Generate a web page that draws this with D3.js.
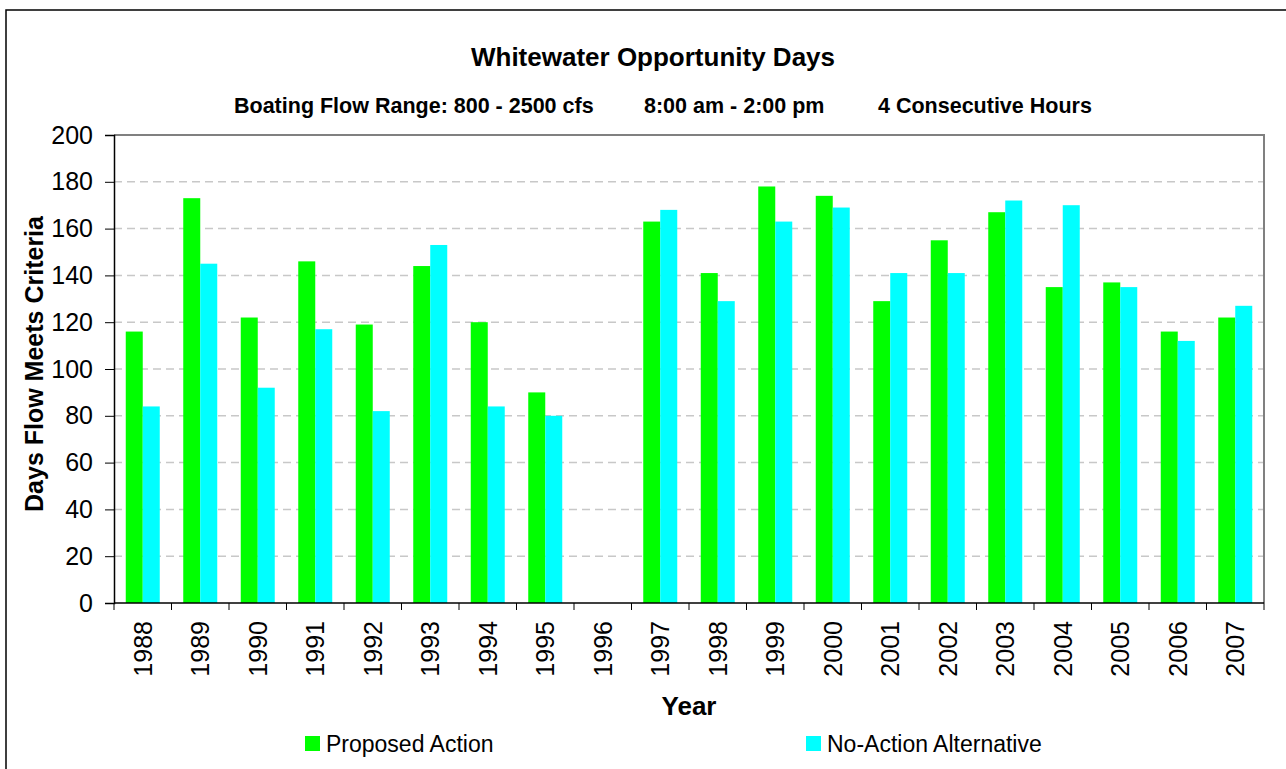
<!DOCTYPE html>
<html>
<head>
<meta charset="utf-8">
<script src="https://cdn.jsdelivr.net/npm/d3@7"></script>
<style>
body{margin:0;background:#fff;}
text{font-family:Arial,"Liberation Sans",sans-serif;}
</style>
</head>
<body>
<script>
const years=["1988","1989","1990","1991","1992","1993","1994","1995","1996","1997","1998","1999","2000","2001","2002","2003","2004","2005","2006","2007"];
const proposed=[116,173,122,146,119,144,120,90,0,163,141,178,174,129,155,167,135,137,116,122];
const noAction=[84,145,92,117,82,153,84,80,0,168,129,163,169,141,141,172,170,135,112,127];
const seriesNames=["Proposed Action","No-Action Alternative"];
const colors=["#00ff00","#00ffff"];
const yTicks=[0,20,40,60,80,100,120,140,160,180,200];

const m={left:114,right:1264,top:135,bottom:603};

const svg=d3.select("body").append("svg")
    .attr("width",1286)
    .attr("height",769);

// outer chart frame
svg.append("rect")
    .attr("x",6).attr("y",10)
    .attr("width",1300).attr("height",800)
    .attr("fill","none").attr("stroke","#000").attr("stroke-width",1.5);

const x=d3.scaleBand().domain(years).range([m.left,m.right]);
const xs=d3.scaleBand().domain([0,1]).range([0,34]);
const y=d3.scaleLinear().domain([0,200]).range([m.bottom,m.top]);

// dashed grid
svg.append("g").selectAll("line")
    .data(yTicks.filter(d=>d>0&&d<200))
    .enter().append("line")
    .attr("x1",m.left).attr("x2",m.right)
    .attr("y1",d=>y(d)).attr("y2",d=>y(d))
    .attr("stroke","#c8c8c8").attr("stroke-width",1.5)
    .attr("stroke-dasharray","8,5");

// top/right plot border
svg.append("path")
    .attr("d",`M${m.left},${m.top}H${m.right}V${m.bottom}`)
    .attr("fill","none").attr("stroke","#808080").attr("stroke-width",2);

const rows=years.map((yr,i)=>({year:yr,vals:[proposed[i],noAction[i]]}));
const off=(x.bandwidth()-34)/2;

svg.append("g").selectAll("g")
    .data(rows)
    .enter().append("g")
    .attr("transform",d=>`translate(${x(d.year)+off},0)`)
    .selectAll("rect")
    .data(d=>d.vals)
    .enter().append("rect")
    .attr("x",(d,i)=>xs(i))
    .attr("width",xs.bandwidth())
    .attr("y",d=>y(d))
    .attr("height",d=>m.bottom-y(d))
    .attr("fill",(d,i)=>colors[i]);

// y axis
const ya=svg.append("g")
    .attr("transform",`translate(${m.left},0)`)
    .call(d3.axisLeft(y).tickValues(yTicks).tickSize(9).tickPadding(12));
ya.select(".domain").attr("stroke","#000").attr("stroke-width",1.5);
ya.selectAll(".tick line").attr("stroke","#000");
ya.selectAll("text").attr("font-size",25).attr("fill","#000").attr("font-family","Arial,'Liberation Sans',sans-serif");

// x axis: ticks at band edges
const xa=svg.append("g").attr("transform",`translate(0,${m.bottom})`);
xa.append("line").attr("x1",m.left).attr("x2",m.right)
    .attr("stroke","#000").attr("stroke-width",1.5);
xa.selectAll(".tk")
    .data(years.concat(["end"]))
    .enter().append("line")
    .attr("x1",(d,i)=>i<years.length?x(d):m.right)
    .attr("x2",(d,i)=>i<years.length?x(d):m.right)
    .attr("y1",0).attr("y2",7)
    .attr("stroke","#000");
xa.selectAll("text")
    .data(years)
    .enter().append("text")
    .attr("transform",d=>`translate(${x(d)+x.bandwidth()/2},18) rotate(-90)`)
    .attr("text-anchor","end")
    .attr("dy","0.35em")
    .attr("font-size",25)
    .text(d=>d);

// titles
svg.append("text").attr("x",653).attr("y",66)
    .attr("text-anchor","middle").attr("font-size",26).attr("font-weight","bold")
    .text("Whitewater Opportunity Days");

const sub=["Boating Flow Range: 800 - 2500 cfs","8:00 am - 2:00 pm","4 Consecutive Hours"];
const subX=[234,644,878];
svg.append("g").selectAll("text")
    .data(sub).enter().append("text")
    .attr("x",(d,i)=>subX[i]).attr("y",113)
    .attr("font-size",21.5).attr("font-weight","bold")
    .text(d=>d);

svg.append("text")
    .attr("transform","translate(43,364) rotate(-90)")
    .attr("text-anchor","middle").attr("font-size",25).attr("font-weight","bold")
    .text("Days Flow Meets Criteria");

svg.append("text").attr("x",689).attr("y",715)
    .attr("text-anchor","middle").attr("font-size",26).attr("font-weight","bold")
    .text("Year");

// legend
const legX=[305,806];
const leg=svg.append("g").selectAll("g")
    .data(seriesNames).enter().append("g")
    .attr("transform",(d,i)=>`translate(${legX[i]},736)`);
leg.append("rect").attr("width",15).attr("height",15).attr("fill",(d,i)=>colors[i]);
leg.append("text").attr("x",21).attr("y",16).attr("font-size",23).text(d=>d);
</script>
</body>
</html>
